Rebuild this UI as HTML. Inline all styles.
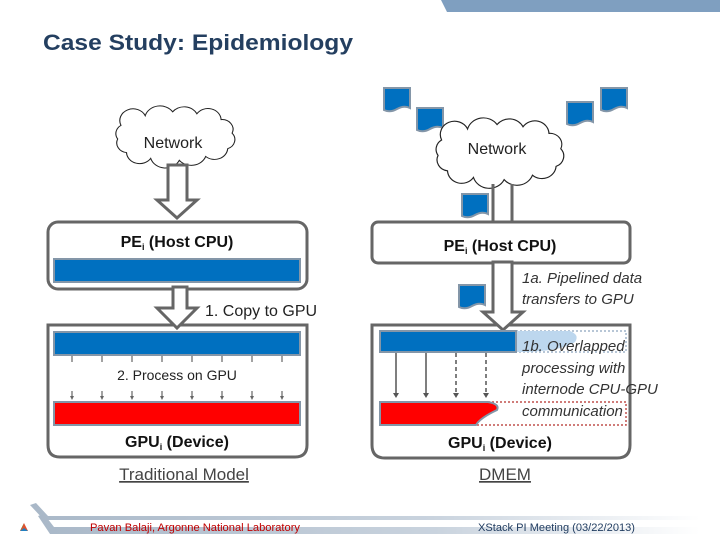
<!DOCTYPE html>
<html><head><meta charset="utf-8"><style>
html,body{margin:0;padding:0;background:#fff;}
svg{display:block;font-family:"Liberation Sans",sans-serif;}
</style></head><body>
<svg width="720" height="540" viewBox="0 0 720 540" xmlns="http://www.w3.org/2000/svg">
<defs>
<linearGradient id="sw" x1="0" x2="1" y1="0" y2="0">
<stop offset="0" stop-color="#a9b8c8"/><stop offset="0.6" stop-color="#c9d3de"/><stop offset="1" stop-color="#ffffff"/>
</linearGradient>
<path id="cloud" d="M20,20 a12,12 0 0 1 22,-10 a14,14 0 0 1 25,-4 a13,13 0 0 1 22,2 a12,12 0 0 1 22,6 a10,10 0 0 1 10,14 a10,10 0 0 1 -4,16 a12,12 0 0 1 -20,8 a14,14 0 0 1 -24,4 a14,14 0 0 1 -26,-2 a12,12 0 0 1 -22,-6 a10,10 0 0 1 -8,-14 a10,10 0 0 1 3,-14 z"/>
<path id="page" d="M0,0 h26 v20 q-6,-3 -13,1 q-7,4 -13,1 z" fill="#0070c0" stroke="#8496a8" stroke-width="2"/>
</defs>

<!-- top right bar -->
<polygon points="441,0 720,0 720,12 447,12" fill="#7f9fc0"/>
<text x="43" y="50" font-size="22" font-weight="bold" fill="#243f60" textLength="310" lengthAdjust="spacingAndGlyphs">Case Study: Epidemiology</text>

<!-- LEFT -->
<use href="#cloud" transform="translate(99,106) scale(1.1,0.97)" fill="#fff" stroke="#222" stroke-width="1"/>
<text x="173" y="148" font-size="16" text-anchor="middle" fill="#222">Network</text>
<polygon points="168,165 187,165 187,200 197,200 177,218 157,200 168,200" fill="#fff" stroke="#666" stroke-width="3" stroke-linejoin="miter"/>
<rect x="48" y="222" width="259" height="67" rx="10" fill="#fff" stroke="#666" stroke-width="3"/>
<text x="177" y="247" font-size="16" font-weight="bold" text-anchor="middle" fill="#111">PE<tspan font-size="9" dy="3">i</tspan><tspan dy="-3"> (Host CPU)</tspan></text>
<rect x="54" y="259" width="246" height="23" fill="#0070c0" stroke="#8496a8" stroke-width="2"/>
<path d="M48,325 H307 V445 Q307,457 295,457 H60 Q48,457 48,445 Z" fill="#fff" stroke="#666" stroke-width="3"/>
<polygon points="173,287 187,287 187,308 197,308 177,328 157,308 173,308" fill="#fff" stroke="#666" stroke-width="3"/>
<text x="205" y="316" font-size="16" fill="#222">1. Copy to GPU</text>
<rect x="54" y="332" width="246" height="23" fill="#0070c0" stroke="#8496a8" stroke-width="2"/>
<g stroke="#666" stroke-width="1.2" fill="#666">
<path d="M72,356v6M102,356v6M132,356v6M162,356v6M192,356v6M222,356v6M252,356v6M282,356v6"/>
<path d="M72,391v6M102,391v6M132,391v6M162,391v6M192,391v6M222,391v6M252,391v6M282,391v6"/>
</g>
<g fill="#666">
<path d="M70,396h4l-2,4z M100,396h4l-2,4z M130,396h4l-2,4z M160,396h4l-2,4z M190,396h4l-2,4z M220,396h4l-2,4z M250,396h4l-2,4z M280,396h4l-2,4z"/>
</g>
<text x="177" y="380" font-size="14" text-anchor="middle" fill="#222">2. Process on GPU</text>
<rect x="54" y="402" width="246" height="23" fill="#ff0000" stroke="#8496a8" stroke-width="2"/>
<text x="177" y="447" font-size="16" font-weight="bold" text-anchor="middle" fill="#111">GPU<tspan font-size="9" dy="3">i</tspan><tspan dy="-3"> (Device)</tspan></text>
<text x="184" y="480" font-size="17" text-anchor="middle" fill="#444" text-decoration="underline">Traditional Model</text>

<!-- RIGHT -->
<use href="#page" x="0" y="0" transform="translate(384,88)"/>
<use href="#page" transform="translate(417,108)"/>
<use href="#page" transform="translate(567,102)"/>
<use href="#page" transform="translate(601,88)"/>
<use href="#cloud" transform="translate(418,118) scale(1.18,1.1)" fill="#fff" stroke="#222" stroke-width="1"/>
<text x="497" y="154" font-size="16" text-anchor="middle" fill="#222">Network</text>
<path d="M493,184V223M512,184V223" stroke="#666" stroke-width="3"/>
<use href="#page" transform="translate(462,194)"/>
<rect x="372" y="222" width="258" height="41" rx="6" fill="#fff" stroke="#666" stroke-width="3"/>
<text x="500" y="251" font-size="16" font-weight="bold" text-anchor="middle" fill="#111">PE<tspan font-size="9" dy="3">i</tspan><tspan dy="-3"> (Host CPU)</tspan></text>
<path d="M372,325 H630 V445 Q630,458 617,458 H385 Q372,458 372,445 Z" fill="#fff" stroke="#666" stroke-width="3"/>
<polygon points="493,262 512,262 512,312 523,312 503,330 483,312 493,312" fill="#fff" stroke="#666" stroke-width="3"/>
<use href="#page" transform="translate(459,285)"/>
<text font-size="15" font-style="italic" fill="#333">
<tspan x="522" y="283">1a. Pipelined data</tspan>
<tspan x="522" y="304">transfers to GPU</tspan>
</text>
<rect x="380" y="331" width="246" height="21" fill="none" stroke="#9fb4c8" stroke-width="1.5" stroke-dasharray="2,2"/>
<path d="M516,331 H570 Q580,335 575,342 Q560,352 516,352 Z" fill="#bdd7ee"/>
<rect x="380" y="331" width="136" height="21" fill="#0070c0" stroke="#8496a8" stroke-width="2"/>
<g stroke="#555" stroke-width="1.5">
<path d="M396,353V394M426,353V394"/>
<path d="M456,353V394M486,353V394" stroke-dasharray="4,3"/>
</g>
<g fill="#555"><path d="M393,393h6l-3,5z M423,393h6l-3,5z M453,393h6l-3,5z M483,393h6l-3,5z"/></g>
<rect x="380" y="402" width="246" height="23" fill="none" stroke="#c0504d" stroke-width="1.5" stroke-dasharray="2,2"/>
<path d="M380,402 H488 Q500,404 497,410 Q480,418 476,425 H380 Z" fill="#ff0000" stroke="#8496a8" stroke-width="2"/>
<text font-size="15" font-style="italic" fill="#333">
<tspan x="522" y="351">1b. Overlapped</tspan>
<tspan x="522" y="373">processing with</tspan>
<tspan x="522" y="394">internode CPU-GPU</tspan>
<tspan x="522" y="416">communication</tspan>
</text>
<text x="500" y="448" font-size="16" font-weight="bold" text-anchor="middle" fill="#111">GPU<tspan font-size="9" dy="3">i</tspan><tspan dy="-3"> (Device)</tspan></text>
<text x="505" y="480" font-size="17" text-anchor="middle" fill="#444" text-decoration="underline">DMEM</text>

<!-- footer -->
<path d="M30,505 L36,503 L48,516 H700 V520 H44 Z" fill="url(#sw)"/>
<path d="M38,516 L44,514 L54,527 H700 V534 H50 Z" fill="url(#sw)"/>
<polygon points="20,531 24,523 28,531" fill="#e05030"/>
<polygon points="20,531 24,523 22,528" fill="#5a9a3a"/>
<polygon points="20,531 28,531 24,528" fill="#2080c0"/>
<text x="90" y="531" font-size="11" fill="#c00000" textLength="210" lengthAdjust="spacingAndGlyphs">Pavan Balaji, Argonne National Laboratory</text>
<text x="478" y="531" font-size="11" fill="#1f3b5f" textLength="157" lengthAdjust="spacingAndGlyphs">XStack PI Meeting (03/22/2013)</text>
</svg>
</body></html>
